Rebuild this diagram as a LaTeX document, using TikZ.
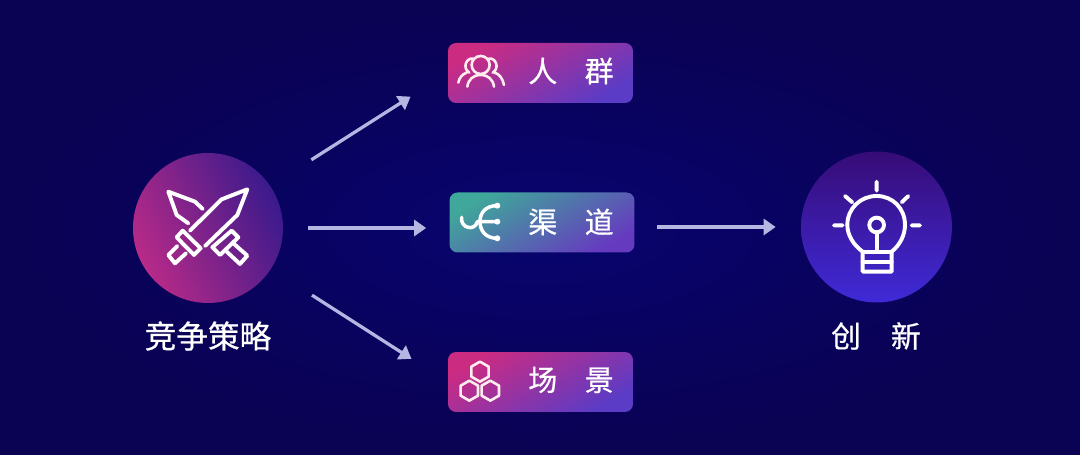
\documentclass[tikz,border=0pt]{standalone}
\usepackage{xcolor}
\usepackage{fontspec}
\setmainfont{Noto Sans CJK SC}[FakeBold=0.6]
\usetikzlibrary{positioning,arrows.meta}
\definecolor{bgin}{HTML}{07046F}
\definecolor{bgout}{HTML}{0A0252}
\definecolor{arrcol}{HTML}{B6B6E2}
\definecolor{pnk}{HTML}{CC2B82}
\definecolor{prp}{HTML}{5A3CC6}
\definecolor{teal}{HTML}{3FA89A}
\definecolor{plum}{HTML}{B82A88}
\definecolor{indg}{HTML}{3A1A8C}
\tikzset{cir/.style={circle,shade,minimum size=3cm,inner sep=0pt},
box/.style={rectangle,shade,rounded corners=0.16cm,minimum width=3.7cm,minimum height=1.2cm,inner sep=0pt},
lab/.style={text=white,inner sep=0pt,font=\fontsize{16.5pt}{16.5pt}\selectfont},
big/.style={text=white,inner sep=0pt,font=\fontsize{18pt}{18pt}\selectfont},
arr/.style={draw=arrcol,line width=0.065cm,-{Triangle[length=0.24cm,width=0.32cm]}},
ico/.style={draw=white,line width=0.078cm,line cap=round,line join=round},
thin ico/.style={draw=#1,line width=0.052cm,line cap=round,line join=round},
zm/.style={x=0.00667cm,y=-0.00667cm}}
\begin{document}
\begin{tikzpicture}[x=0.02cm,y=-0.02cm]
    \useasboundingbox (0,0) rectangle (1080,455);
    \path[shade,inner color=bgin,outer color=bgout] (0,0) rectangle (1080,455);

    \node[cir,bottom color=indg,top color=plum,shading angle=115] (jz) at (208,228) {};
    \node[cir,bottom color=prp!70!blue,top color=pnk!45!blue!60!black,shading angle=0,minimum size=3.02cm] (cx) at (876.5,227) {};
    \node[box,bottom color=prp,top color=pnk,shading angle=30] (rq) at (540.5,73) {};
    \node[box,bottom color=prp!90!pnk,top color=teal,shading angle=30] (qd) at (542,222.5) {};
    \node[box,bottom color=prp,top color=pnk,shading angle=30] (cj) at (540.5,382) {};

    \node[big] (jzt) at (208,336) {竞争策略};
    \node[big,font=\fontsize{17pt}{17pt}\selectfont] (cxt) at (876,336) {创\quad 新};
    \node[lab] (rqt) at (571,71) {人\hspace{15.6pt}群};
    \node[lab] (qdt) at (571,222) {渠\hspace{15.6pt}道};
    \node[lab] (cjt) at (571,380) {场\hspace{15.6pt}景};

    \draw [arr,shorten <=0.97cm,shorten >=0.88cm] (jz.34) to (rq.west);
    \draw [arr,shorten <=0.5cm,shorten >=0.46cm] (jz.east) to (jz.east -| qd.west);
    \draw [arr,shorten <=0.97cm,shorten >=0.86cm] (jz.-33) to (cj.west);
    \draw [arr,shorten <=0.44cm,shorten >=0.5cm] (qd.east |- cx.west) to (cx.west);

    % swords
    \begin{scope}[shift={(120,140)},zm]
        \draw[ico] (382,148) -- (305,178) -- (210,272) (382,148) -- (352,225) -- (255,318);
        \draw[ico] (188,272) -- (170,292) -- (222,345) -- (242,325) -- cycle;
        \draw[ico] (172,318) -- (145,345) -- (165,370) -- (198,340);
        \draw[ico] (205,250) -- (170,225) -- (145,155) -- (225,185) -- (248,207);
        \draw[ico] (335,272) -- (355,292) -- (300,345) -- (277,322) -- cycle;
        \draw[ico] (340,310) -- (382,347) -- (360,372) -- (320,335);
    \end{scope}
    % bulb
    \begin{scope}[shift={(790,140)},zm]
        \draw[ico] (218,335) .. controls (190,315) and (172,285) .. (172,255) .. controls (172,205) and (212,168) .. (260,168) .. controls (308,168) and (345,205) .. (345,255) .. controls (345,285) and (330,315) .. (305,335) -- (305,395) -- (218,395) -- cycle;
        \draw[ico] (218,335) -- (305,335) (218,365) -- (305,365);
        \draw[ico] (260,255) circle (22);
        \draw[ico] (260,277) -- (260,335);
        \draw[ico] (260,125) -- (260,152) (165,168) -- (187,187) (355,168) -- (335,187) (132,256) -- (158,256) (365,256) -- (390,256);
    \end{scope}
    % people
    \begin{scope}[shift={(440,30)},zm]
        \draw[thin ico=pink!30!white] (122,105) circle (27);
        \draw[thin ico=pink!30!white] (82,170) .. controls (85,148) and (100,135) .. (122,135) .. controls (144,135) and (159,148) .. (162,170);
        \draw[thin ico=pink!30!white] (100,86) .. controls (78,82) and (66,115) .. (88,128) (55,158) .. controls (58,142) and (68,132) .. (80,128);
        \draw[thin ico=pink!30!white] (146,86) .. controls (168,82) and (180,115) .. (158,128) (192,165) .. controls (188,145) and (178,132) .. (164,128);
    \end{scope}
    % channels
    \begin{scope}[shift={(440,185)},zm]
        \draw[thin ico=white,line width=0.07cm] (65,97) .. controls (60,130) and (105,140) .. (112,110) -- (172,110);
        \draw[thin ico=white,line width=0.07cm] (172,62) .. controls (135,62) and (120,85) .. (120,110) .. controls (120,135) and (135,160) .. (172,160);
        \fill[white] (172,62) circle (9) (172,110) circle (9) (172,160) circle (9);
    \end{scope}
    % hexagons
    \begin{scope}[shift={(440,345)},zm]
        \foreach \cx/\cy in {120/80,88/137,151/137}
            \draw[thin ico=pink!30!white] (\cx,\cy-30) -- (\cx+26,\cy-15) -- (\cx+26,\cy+15) -- (\cx,\cy+30) -- (\cx-26,\cy+15) -- (\cx-26,\cy-15) -- cycle;
    \end{scope}
\end{tikzpicture}
\end{document}
